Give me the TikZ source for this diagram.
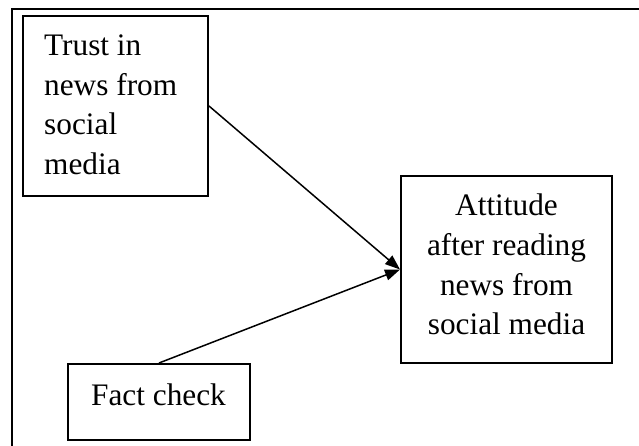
\documentclass[tikz,border=0pt]{standalone}
\usepackage{fontspec}
\setmainfont{Liberation Serif}
\usetikzlibrary{arrows.meta}

\tikzset{
  box/.style={draw, line width=2pt, rectangle, inner sep=0pt},
  label text/.style={inner sep=0pt, font=\fontsize{31.3}{39.5}\selectfont},
  link/.style={line width=1.5pt, -{Triangle[length=15pt,width=11pt]}},
  frame/.style={line width=1.8pt}
}

\begin{document}
\begin{tikzpicture}[x=1pt,y=-1pt]
  \useasboundingbox (0,0) rectangle (639,446);

  % open outer frame (top and left edges)
  \coordinate (frameTL) at (12,9);
  \coordinate (frameTR) at (639,9);
  \coordinate (frameBL) at (12,446);
  \draw[frame] (frameTR) -- (frameTL) -- (frameBL);

  % boxes
  \node[box, minimum width=185pt, minimum height=180pt] (trust) at (115.5,106) {};
  \node[box, minimum width=211pt, minimum height=187pt] (attitude) at (506.5,269.5) {};
  \node[box, minimum width=182pt, minimum height=76pt] (fact) at (159,402) {};

  % box texts
  \node[label text, anchor=base west] (trusttext) at (44,56)
    {\begin{tabular}[t]{@{}l@{}}Trust in\\news from\\social\\media\end{tabular}};
  \node[label text, anchor=base] (attitudetext) at (506.5,216)
    {\begin{tabular}[t]{@{}c@{}}Attitude\\after reading\\news from\\social media\end{tabular}};
  \node[label text, anchor=base] (facttext) at (158.5,405) {Fact check};

  % connectors
  \draw[link] (trust.east) -- (attitude.west);
  \draw[link] (fact.north) -- (attitude.west);
\end{tikzpicture}
\end{document}
